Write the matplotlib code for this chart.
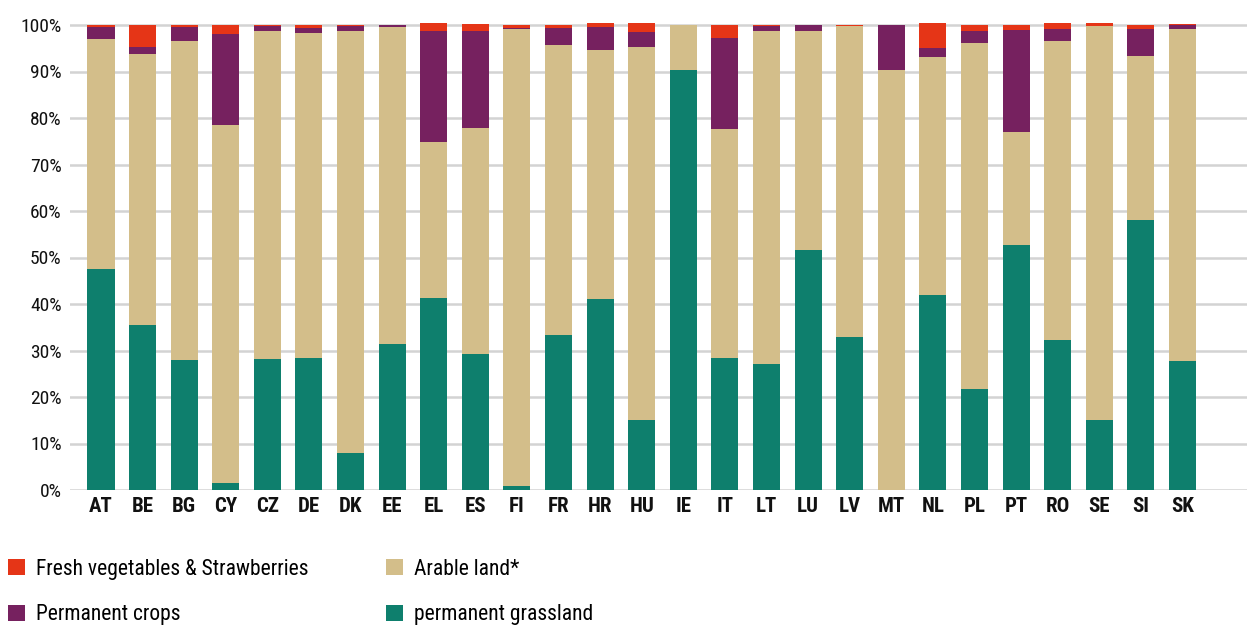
import matplotlib
matplotlib.use("Agg")
import matplotlib.pyplot as plt
from matplotlib import font_manager
import numpy as np

names = {f.name for f in font_manager.fontManager.ttflist}
cands = ['Liberation Sans Narrow', 'Roboto Condensed', 'Open Sans Condensed', 'Noto Sans Condensed', 'Roboto', 'DejaVu Sans']
fam = [c for c in cands if c in names] + ['DejaVu Sans']
plt.rcParams['font.family'] = fam

countries = ["AT", "BE", "BG", "CY", "CZ", "DE", "DK", "EE", "EL", "ES", "FI", "FR", "HR",
             "HU", "IE", "IT", "LT", "LU", "LV", "MT", "NL", "PL", "PT", "RO", "SE", "SI", "SK"]
grassland = [47.5, 35.5, 28.0, 1.5, 28.2, 28.4, 8.0, 31.4, 41.3, 29.2, 0.9, 33.3, 41.1,
             15.1, 90.3, 28.4, 27.1, 51.6, 32.9, 0.0, 41.9, 21.7, 52.7, 32.3, 15.1, 58.1, 27.7]
arable = [49.5, 58.3, 68.5, 77.0, 70.5, 69.9, 90.7, 68.2, 33.5, 48.7, 98.2, 62.4, 53.5,
          80.2, 9.7, 49.2, 71.6, 47.1, 66.8, 90.3, 51.2, 74.4, 24.3, 64.3, 84.7, 35.2, 71.4]
perm_crops = [2.6, 1.5, 3.1, 19.6, 1.0, 1.1, 1.1, 0.3, 23.9, 20.8, 0.3, 3.7, 5.0,
              3.2, 0.0, 19.6, 1.1, 1.3, 0.1, 9.7, 2.0, 2.6, 21.9, 2.5, 0.0, 5.8, 0.8]
vegetables = [0.4, 4.7, 0.4, 1.9, 0.3, 0.6, 0.3, 0.2, 1.7, 1.5, 0.6, 0.6, 0.8,
              1.9, 0.0, 2.8, 0.3, 0.0, 0.3, 0.0, 5.3, 1.3, 1.1, 1.3, 0.6, 0.9, 0.3]
yticks = [0, 10, 20, 30, 40, 50, 60, 70, 80, 90, 100]

c_grass = "#0e7f6d"
c_arable = "#d3be8a"
c_perm = "#76215f"
c_veg = "#e53517"

fig = plt.figure(figsize=(12.47, 6.26), dpi=100)
ax = fig.add_axes([70/1247, 1-490/626, 1-70/1247, (490-20)/626])

x = np.arange(len(countries))
w = 0.65
g = np.array(grassland); a = np.array(arable); p = np.array(perm_crops); v = np.array(vegetables)
b1 = ax.bar(x, g, w, color=c_grass, label="permanent grassland", zorder=3)
b2 = ax.bar(x, a, w, bottom=g, color=c_arable, label="Arable land*", zorder=3)
b3 = ax.bar(x, p, w, bottom=g+a, color=c_perm, label="Permanent crops", zorder=3)
b4 = ax.bar(x, v, w, bottom=g+a+p, color=c_veg, label="Fresh vegetables & Strawberries", zorder=3)

ax.set_xlim(-0.745, 27.55)
ax.set_ylim(0, 100 + 5/4.65)
ax.set_yticks(yticks)
ax.set_yticklabels([f"{t}%" for t in yticks], fontsize=14, color="#111111")
ax.set_xticks(x)
ax.set_xticklabels(countries, fontsize=15, fontweight="bold", color="#111111")
ax.tick_params(axis='both', length=0)
ax.tick_params(axis='y', pad=6)
ax.tick_params(axis='x', pad=5)
for s in ax.spines.values():
    s.set_visible(False)
ax.grid(axis='y', color="#d3d3d3", linewidth=1.8, zorder=0)
ax.set_axisbelow(True)

leg = fig.legend([b4, b3, b2, b1],
                 ["Fresh vegetables & Strawberries", "Permanent crops", "Arable land*", "permanent grassland"],
                 ncol=2, loc="lower left", bbox_to_anchor=(-0.009, -0.03), frameon=False,
                 fontsize=15.5, handlelength=0.8, handleheight=0.8, handletextpad=0.5,
                 columnspacing=3.6, labelspacing=1.15)

fig.savefig("out.png", dpi=100)
